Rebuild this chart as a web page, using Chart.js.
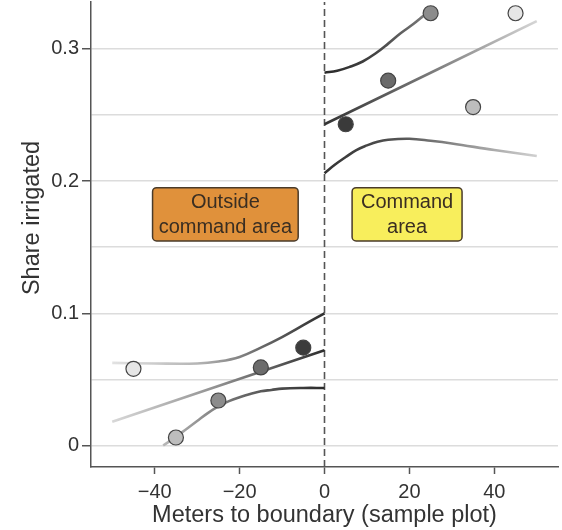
<!DOCTYPE html>
<html>
<head>
<meta charset="utf-8">
<script src="https://cdn.jsdelivr.net/npm/chart.js@4.4.1/dist/chart.umd.min.js"></script>
<style>
  html, body { margin: 0; padding: 0; background: #fff; }
  #wrap { width: 562px; height: 530px; }
</style>
</head>
<body>
<div id="wrap"><canvas id="myChart" width="562" height="530"></canvas></div>
<script>
// axis ticks
var xTicks = [-40, -20, 0, 20, 40];
var yTicks = [0, 0.05, 0.1, 0.15, 0.2, 0.25, 0.3];

// sample plots (binned means)
var plotX = [-45, -35, -25, -15, -5, 5, 15, 25, 35, 45];
var plotShare = [0.058, 0.006, 0.034, 0.059, 0.074, 0.243, 0.276, 0.327, 0.256, 0.327];
var plotShade = ['#e6e6e6', '#bdbdbd', '#8c8c8c', '#6c6c6c', '#3c3c3c',
                 '#3a3a3a', '#6a6a6a', '#8c8c8c', '#bdbdbd', '#e6e6e6'];

// fitted lines and bands, left side (outside)
var fitLeftX = [-50, 0];
var fitLeftY = [0.018, 0.072];
var upperLeftX = [-50, -40, -30, -25, -20, -15, -10, -5, 0];
var upperLeftY = [0.0625, 0.062, 0.062, 0.0635, 0.067, 0.074, 0.082, 0.091, 0.100];
var lowerLeftX = [-38, -35, -32.5, -30, -27.5, -25, -22.5, -20, -17.5, -15, -12.5, -10, -5, 0];
var lowerLeftY = [0.000, 0.0065, 0.0125, 0.0185, 0.0245, 0.0295, 0.0335, 0.0365, 0.039, 0.041, 0.042, 0.043, 0.0435, 0.0435];

// right side (command area)
var fitRightX = [0, 50];
var fitRightY = [0.243, 0.321];
var upperRightX = [0, 3, 6, 9, 12, 15, 18, 21, 23.3];
var upperRightY = [0.282, 0.2835, 0.2865, 0.2905, 0.2965, 0.304, 0.312, 0.319, 0.325];
var lowerRightX = [0, 2.5, 5, 7.5, 10, 12.5, 15, 20, 25, 30, 40, 50];
var lowerRightY = [0.206, 0.2125, 0.2182, 0.2235, 0.227, 0.2298, 0.2313, 0.232, 0.2305, 0.2285, 0.2235, 0.219];

var xMin = -55, xMax = 55, yMin = -0.0163, yMax = 0.3355;

var FONT = '"Liberation Sans", Arial, sans-serif';

function pts(xs, ys) {
    return xs.map(function (x, i) { return { x: x, y: ys[i] }; });
}

// gradient along x, stops given as [xValue, color]
function fade(stops) {
    return function (ctx) {
        var chart = ctx.chart;
        if (!chart.chartArea) return stops[0][1];
        var sx = chart.scales.x;
        var a = sx.getPixelForValue(stops[0][0]);
        var b = sx.getPixelForValue(stops[stops.length - 1][0]);
        var g = chart.ctx.createLinearGradient(a, 0, b, 0);
        stops.forEach(function (s) {
            g.addColorStop((sx.getPixelForValue(s[0]) - a) / (b - a), s[1]);
        });
        return g;
    };
}

function curve(xs, ys, stops) {
    return {
        data: pts(xs, ys),
        showLine: true,
        borderColor: fade(stops),
        borderWidth: 2.6,
        pointRadius: 0,
        pointHoverRadius: 0,
        tension: 0.4,
        fill: false,
        order: 2
    };
}

var boxes = [
    { x0: -40.5, x1: -6.2, y0: 0.195, y1: 0.1547, fill: '#e0913b', lines: ['Outside', 'command area'] },
    { x0: 6.5, x1: 32.4, y0: 0.195, y1: 0.1547, fill: '#f8ee5c', lines: ['Command', 'area'] }
];

var boxPlugin = {
    id: 'boxes',
    afterDatasetsDraw: function (chart) {
        var c = chart.ctx, sx = chart.scales.x, sy = chart.scales.y;
        boxes.forEach(function (b) {
            var l = sx.getPixelForValue(b.x0), r = sx.getPixelForValue(b.x1);
            var t = sy.getPixelForValue(b.y0), btm = sy.getPixelForValue(b.y1);
            c.save();
            c.beginPath();
            c.roundRect(l, t, r - l, btm - t, 4);
            c.fillStyle = b.fill;
            c.fill();
            c.lineWidth = 1.5;
            c.strokeStyle = '#4a3b2a';
            c.stroke();
            c.fillStyle = '#3a2e22';
            c.font = '20px ' + FONT;
            c.textAlign = 'center';
            c.textBaseline = 'middle';
            var cx = (l + r) / 2, cy = (t + btm) / 2;
            c.fillText(b.lines[0], cx, cy - 12);
            c.fillText(b.lines[1], cx, cy + 13);
            c.restore();
        });
    }
};

// y axis title, placed a bit above the axis middle as in the original
var yTitlePlugin = {
    id: 'yTitle',
    afterDraw: function (chart) {
        var c = chart.ctx;
        c.save();
        c.translate(33, 218);
        c.rotate(-Math.PI / 2);
        c.fillStyle = '#333';
        c.font = '23.5px ' + FONT;
        c.textAlign = 'center';
        c.textBaseline = 'middle';
        c.fillText('Share irrigated', 0, 0);
        c.restore();
    }
};

var datasets = [
    {
        data: [{ x: 0, y: yMin }, { x: 0, y: yMax }],
        showLine: true,
        borderColor: '#555',
        borderWidth: 1.6,
        borderDash: [7, 4],
        pointRadius: 0,
        order: 3
    },
    curve(fitLeftX, fitLeftY, [[-50, '#d8d8d8'], [-25, '#909090'], [0, '#2e2e2e']]),
    curve(upperLeftX, upperLeftY, [[-50, '#e2e2e2'], [-30, '#b5b5b5'], [-15, '#6a6a6a'], [0, '#2e2e2e']]),
    curve(lowerLeftX, lowerLeftY, [[-38, '#b8b8b8'], [-20, '#6a6a6a'], [0, '#2a2a2a']]),
    curve(fitRightX, fitRightY, [[0, '#333333'], [25, '#7a7a7a'], [50, '#d5d5d5']]),
    curve(upperRightX, upperRightY, [[0, '#2a2a2a'], [12, '#444444'], [23.3, '#777777']]),
    curve(lowerRightX, lowerRightY, [[0, '#333333'], [18, '#555555'], [35, '#999999'], [50, '#d0d0d0']]),
    {
        data: pts(plotX, plotShare),
        showLine: false,
        pointRadius: 7.5,
        pointHoverRadius: 7.5,
        pointBackgroundColor: plotShade,
        pointBorderColor: '#444',
        pointBorderWidth: 1.2,
        order: 1
    }
];

var ctx = document.getElementById('myChart').getContext('2d');
var myChart = new Chart(ctx, {
    type: 'scatter',
    data: { datasets: datasets },
    plugins: [boxPlugin, yTitlePlugin],
    options: {
        responsive: false,
        animation: false,
        events: [],
        layout: { autoPadding: false, padding: { top: 2, right: 4, left: 0, bottom: 0 } },
        plugins: {
            legend: { display: false },
            tooltip: { enabled: false }
        },
        scales: {
            x: {
                type: 'linear',
                min: xMin,
                max: xMax,
                afterBuildTicks: function (s) { s.ticks = xTicks.map(function (v) { return { value: v }; }); },
                afterFit: function (s) { s.height = 63; s.paddingLeft = 0; s.paddingRight = 0; },
                border: { color: '#555', width: 1.5 },
                grid: { drawOnChartArea: false, drawTicks: true, tickLength: 7, tickColor: '#555', tickWidth: 1.5 },
                ticks: {
                    color: '#333',
                    padding: 6,
                    font: { family: FONT, size: 20 },
                    callback: function (v) { return v < 0 ? '\u2212' + Math.abs(v) : String(v); }
                },
                title: {
                    display: true,
                    text: 'Meters to boundary (sample plot)',
                    color: '#333',
                    font: { family: FONT, size: 23.5 },
                    padding: { top: 0, bottom: 0 }
                }
            },
            y: {
                type: 'linear',
                min: yMin,
                max: yMax,
                afterBuildTicks: function (s) { s.ticks = yTicks.map(function (v) { return { value: v }; }); },
                afterFit: function (s) { s.width = 91; s.paddingTop = 0; s.paddingBottom = 0; },
                border: { color: '#555', width: 1.5 },
                grid: {
                    color: '#dcdcdc',
                    lineWidth: 1.5,
                    tickLength: 9,
                    tickWidth: 1.5,
                    tickColor: function (c) {
                        return Math.round(c.tick.value * 100) % 10 === 0 ? '#555' : 'rgba(0,0,0,0)';
                    }
                },
                ticks: {
                    color: '#333',
                    padding: 3,
                    font: { family: FONT, size: 20 },
                    callback: function (v) {
                        return Math.round(v * 100) % 10 === 0 ? String(Math.round(v * 10) / 10) : '';
                    }
                }
            }
        }
    }
});
</script>
</body>
</html>
